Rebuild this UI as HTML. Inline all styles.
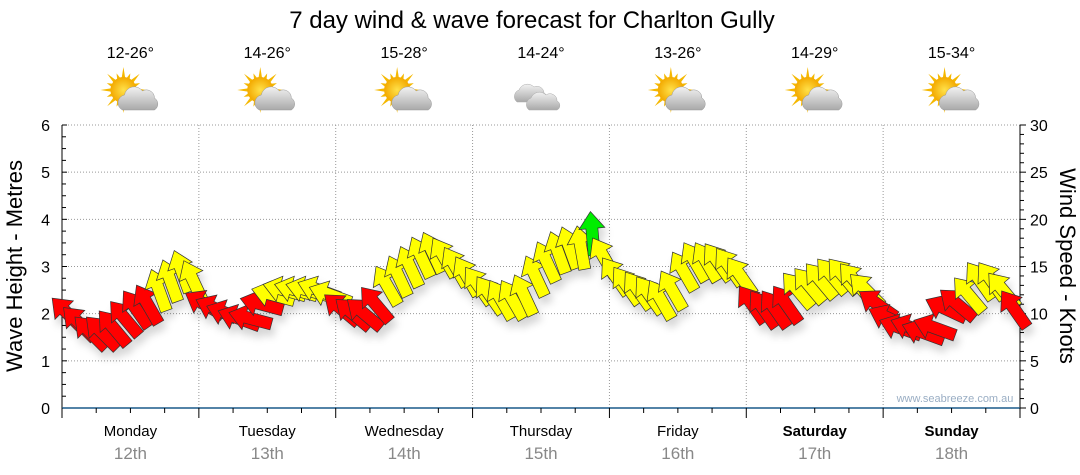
<!DOCTYPE html>
<html><head><meta charset="utf-8"><style>
html,body{margin:0;padding:0;background:#fff;}
svg{display:block;font-family:"Liberation Sans",sans-serif;}
</style></head><body>
<svg id="chart" width="1080" height="475" viewBox="0 0 1080 475">
<defs>
<filter id="sh" x="-50%" y="-50%" width="200%" height="200%"><feDropShadow dx="3" dy="7" stdDeviation="4" flood-color="#000" flood-opacity="0.16"/></filter>
<radialGradient id="sun" cx="50%" cy="50%" r="50%"><stop offset="0" stop-color="#ffe14a"/><stop offset="1" stop-color="#f3a900"/></radialGradient>
<linearGradient id="cloud" x1="0" y1="0" x2="0" y2="1"><stop offset="0" stop-color="#f2f2f2"/><stop offset="1" stop-color="#a9a9a9"/></linearGradient>
</defs>
<text x="532" y="28" text-anchor="middle" font-size="24" fill="#000">7 day wind &amp; wave forecast for Charlton Gully</text>
<g id="grid"></g><g id="axes"></g><g id="icons"></g>
<text x="955" y="402" text-anchor="middle" font-size="11" fill="#9aaec4">www.seabreeze.com.au</text>
<g id="arrows" filter="url(#sh)"></g>
<text transform="translate(22,266) rotate(-90)" text-anchor="middle" font-size="22">Wave Height - Metres</text>
<text transform="translate(1060,266) rotate(90)" text-anchor="middle" font-size="22">Wind Speed - Knots</text>
</svg>
<script>
const days=["Monday","Tuesday","Wednesday","Thursday","Friday","Saturday","Sunday"];
const dates=["12th","13th","14th","15th","16th","17th","18th"];
const temps=["12-26°","14-26°","15-28°","14-24°","13-26°","14-29°","15-34°"];
const icons=["partly","partly","partly","cloudy","partly","partly","partly"];
const leftTicks=[0,1,2,3,4,5,6];
const rightTicks=[0,5,10,15,20,25,30];
const windSpeed=[10,9,8,8,8.5,9.5,10.5,11,12.5,13.5,14.5,13.5,
11,10.5,10,9.5,9.5,11,12,12.5,12.5,12.5,12.5,12,
10.5,10,10,11,13,14,15,16,16.5,16,15,14,
13,12,11.5,11.5,12,14,15.5,16.5,17,17,18.5,16,
14,13,12.5,12,11.5,12.5,14.5,15.5,15.5,15.5,15,14,
11,10.5,10.5,11,12.5,13,13.5,14,14,13.5,12.5,11,
9.5,8.5,8.5,8,8.5,10.5,11,12,13.5,13.5,12.5,10.5];
const windDir=[135,135,135,135,130,130,125,120,110,110,110,115,
150,155,160,160,165,165,165,165,165,165,160,160,
140,140,140,130,120,115,115,115,115,120,120,120,
125,125,120,120,115,115,115,110,110,100,95,120,
125,125,125,125,120,120,120,120,120,125,125,125,
125,125,125,125,130,130,130,130,130,130,135,145,
155,160,160,160,160,155,140,130,125,125,130,125];
const NS="http://www.w3.org/2000/svg";
const X0=62,X1=1020,YT=125,YB=408,DW=(X1-X0)/7;
const yM=v=>YB-(v/6)*(YB-YT), yK=v=>YB-(v/30)*(YB-YT);
const xT=i=>X0+(i+0.5)*DW/12;
function mk(p,t,a){const e=document.createElementNS(NS,t);for(const k in a)e.setAttribute(k,a[k]);p.appendChild(e);return e;}
const grid=document.getElementById('grid'),axes=document.getElementById('axes'),ic=document.getElementById('icons'),ar=document.getElementById('arrows');
leftTicks.forEach(v=>{if(v>0){const l=mk(grid,'line',{x1:X0,x2:X1,y1:yM(v),y2:yM(v),stroke:'#999','stroke-dasharray':'1,2'});

}
const t=mk(axes,'text',{x:50,y:yM(v)+6,'text-anchor':'end','font-size':16});t.textContent=v;

});
rightTicks.forEach(v=>{const t=mk(axes,'text',{x:1030,y:yK(v)+6,'font-size':16});t.textContent=v;

});
for(let v=0;v<=6.001;v+=0.25){mk(axes,'line',{x1:X0,x2:X0+(v%1===0?5:4),y1:yM(v),y2:yM(v),stroke:'#000'});}
for(let v=0;v<=30;v+=1){mk(axes,'line',{x1:X1,x2:X1+(v%5===0?6:4),y1:yK(v),y2:yK(v),stroke:'#000'});}
mk(axes,'line',{x1:X0,x2:X0,y1:YT,y2:YB,stroke:'#000'});
mk(axes,'line',{x1:X1,x2:X1,y1:YT,y2:YB,stroke:'#000'});
mk(axes,'line',{x1:X0,x2:X1,y1:YB,y2:YB,stroke:'#1a5a8a','stroke-width':1.5});
for(let d=0;d<=7;d++){const x=X0+d*DW;
if(d>0&&d<7){const g=mk(grid,'line',{x1:x,x2:x,y1:YT,y2:YB,stroke:'#999','stroke-dasharray':'1,2'});

}
mk(axes,'line',{x1:x,x2:x,y1:YB,y2:YB+10,stroke:'#000'});
if(d<7)for(let q=1;q<4;q++)mk(axes,'line',{x1:x+q*DW/4,x2:x+q*DW/4,y1:YB,y2:YB+5,stroke:'#000'});}
days.forEach((d,i)=>{const cx=X0+(i+0.5)*DW;
const t=mk(axes,'text',{x:cx,y:436,'text-anchor':'middle','font-size':15,'font-weight':i>=5?'bold':'normal'});t.textContent=d;


const t2=mk(axes,'text',{x:cx,y:459,'text-anchor':'middle','font-size':17,fill:'#888'});t2.textContent=dates[i];


const t3=mk(ic,'text',{x:cx,y:58,'text-anchor':'middle','font-size':16});t3.textContent=temps[i];


const g=mk(ic,'g',{transform:`translate(${cx},94)`});


if(icons[i]==='partly'){
for(let k=0;k<16;k++){const a=k*Math.PI/8;const r=k%2?18:23;
mk(g,'polygon',{points:`${-7+Math.cos(a)*r},${-4+Math.sin(a)*r} ${-7+Math.cos(a+0.15)*12},${-4+Math.sin(a+0.15)*12} ${-7+Math.cos(a-0.15)*12},${-4+Math.sin(a-0.15)*12}`,fill:'#f5b800'});}
mk(g,'circle',{cx:-7,cy:-4,r:13,fill:'url(#sun)'});
mk(g,'path',{d:'M-8,16 a8,8 0 0 1 2,-15 a10,10 0 0 1 18,-4 a8,8 0 0 1 12,7 a7,7 0 0 1 0,12 z',fill:'url(#cloud)',stroke:'#999','stroke-width':0.5});
}else{
mk(g,'path',{d:'M-24,8 a7,7 0 0 1 2,-12 a9,9 0 0 1 15,-3 a7,7 0 0 1 10,6 a5,5 0 0 1 0,9 z',fill:'url(#cloud)',stroke:'#aaa','stroke-width':0.5});
mk(g,'path',{d:'M-12,16 a7,7 0 0 1 2,-12 a9,9 0 0 1 15,-3 a7,7 0 0 1 11,6 a5,5 0 0 1 0,9 z',fill:'url(#cloud)',stroke:'#aaa','stroke-width':0.5});}
});
const shape="M22,0 L5,-13 L5,-6 L-22,-6 L-22,6 L5,6 L5,13 Z";
windSpeed.forEach((v,i)=>{const col=v>=18?'#00ee00':v>=11.25?'#ffff00':'#ff0000';
const p=mk(ar,'path',{d:shape,fill:col,stroke:'#333','stroke-width':0.7,transform:`translate(${xT(i)},${yK(v)}) rotate(${-windDir[i]})`});

});
</script>
</body></html>
